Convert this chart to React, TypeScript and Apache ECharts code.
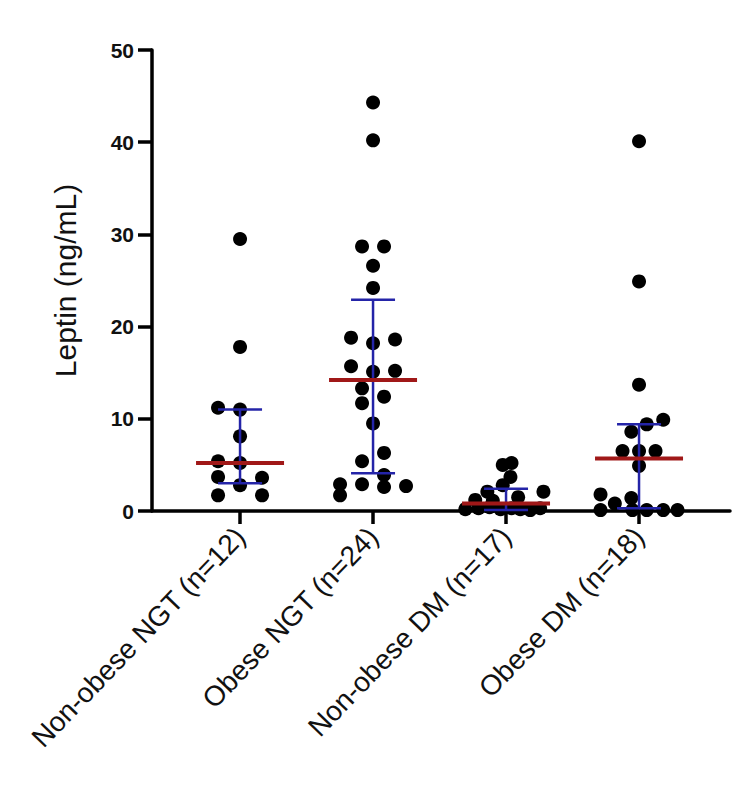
import React, { useEffect, useRef } from "react";
import * as echarts from "echarts";

const categories = [
  "Non-obese NGT (n=12)",
  "Obese NGT (n=24)",
  "Non-obese DM (n=17)",
  "Obese DM (n=18)",
];

const yTicks = [0, 10, 20, 30, 40, 50];

// Leptin values (ng/mL) per group, with horizontal scatter slot (in dot units)
const nonObeseNGT = [29.5, 17.8, 11.2, 11.0, 8.1, 5.4, 5.2, 3.7, 3.6, 2.8, 1.7, 1.7];
const nonObeseNGTSlot = [0, 0, -2, 0, 0, -2, 0, -2, 2, 0, -2, 2];

const obeseNGT = [44.3, 40.2, 28.7, 28.7, 26.6, 24.2, 18.8, 18.2, 18.6, 15.7, 15.1, 15.2, 13.3, 11.7, 12.4, 9.5, 6.3, 5.4, 3.9, 2.9, 2.6, 2.7, 2.9, 1.7];
const obeseNGTSlot = [0, 0, -1, 1, 0, 0, -2, 0, 2, -2, 0, 2, -1, -1, 1, 0, 1, -1, 1, -1, 1, 3, -3, -3];

const nonObeseDM = [5.0, 5.2, 3.7, 2.8, 2.1, 2.1, 1.5, 1.2, 1.1, 0.2, 0.3, 0.4, 0.2, 0.3, 0.2, 0.1, 0.3];
const nonObeseDMSlot = [-0.3, 0.5, 0.4, -0.3, -1.7, 3.4, 1.1, -2.8, -1.2, -3.7, -2.5, -1.5, -0.5, 0.5, 1.3, 2.2, 3.1];

const obeseDM = [40.1, 24.9, 13.7, 9.9, 9.4, 8.6, 6.5, 6.5, 6.5, 4.9, 1.8, 1.4, 0.8, 0.1, 0.1, 0.1, 0.1, 0.1];
const obeseDMSlot = [0, 0, 0, 2.2, 0.7, -0.7, -1.5, 0, 1.5, 0, -3.5, -0.7, -2.2, -3.5, -0.6, 0.7, 2.2, 3.5];

// Median and interquartile range per group
const medians = [5.2, 14.2, 0.8, 5.7];
const q1s = [3.0, 4.1, 0.1, 0.3];
const q3s = [11.0, 22.9, 2.4, 9.4];

const groups = [nonObeseNGT, obeseNGT, nonObeseDM, obeseDM];
const slots = [nonObeseNGTSlot, obeseNGTSlot, nonObeseDMSlot, obeseDMSlot];

const SLOT_UNIT = 11 / 133;

export default function App() {
  const ref = useRef<HTMLDivElement>(null);

  useEffect(() => {
    document.body.style.margin = "0";
    if (!ref.current) return;
    const chart = echarts.init(ref.current, undefined, { renderer: "svg" });

    const points: number[][] = [];
    groups.forEach((vals, gi) => {
      vals.forEach((v, i) => {
        points.push([gi + slots[gi][i] * SLOT_UNIT, v]);
      });
    });

    const stats = medians.map((m, i) => [i, m, q1s[i], q3s[i]]);

    const font = "'Liberation Sans', Arial, sans-serif";

    chart.setOption({
      animation: false,
      backgroundColor: "#ffffff",
      grid: { left: 152, right: 20, top: 50, bottom: 281, containLabel: false },
      xAxis: {
        type: "value",
        min: -0.662,
        max: 3.684,
        splitLine: { show: false },
        axisLine: { show: true, onZero: false, lineStyle: { color: "#000", width: 3.5 } },
        axisTick: {
          show: true,
          length: 13,
          lineStyle: { color: "#000", width: 3.5 },
          customValues: [0, 1, 2, 3],
        },
        axisLabel: {
          show: true,
          customValues: [0, 1, 2, 3],
          rotate: 46,
          margin: 21,
          fontSize: 28,
          fontFamily: font,
          color: "#111",
          formatter: (v: number) => categories[Math.round(v)] ?? "",
        },
      },
      yAxis: {
        type: "value",
        min: 0,
        max: 50,
        interval: 10,
        splitLine: { show: false },
        name: "Leptin (ng/mL)",
        nameLocation: "middle",
        nameGap: 72,
        nameTextStyle: { fontSize: 30, fontFamily: font, color: "#111" },
        axisLine: { show: true, onZero: false, lineStyle: { color: "#000", width: 3.5 } },
        axisTick: { show: true, length: 14, lineStyle: { color: "#000", width: 3.5 } },
        axisLabel: {
          margin: 18,
          fontSize: 21,
          fontWeight: "bold",
          fontFamily: font,
          color: "#111",
          formatter: (v: number) => (yTicks.includes(v) ? String(v) : ""),
        },
      },
      series: [
        {
          type: "scatter",
          data: points,
          symbol: "circle",
          symbolSize: 14,
          itemStyle: { color: "#000", opacity: 1 },
          z: 2,
        },
        {
          type: "custom",
          data: stats,
          z: 3,
          renderItem: (params: any, api: any) => {
            const x = api.value(0);
            const med = api.coord([x, api.value(1)]);
            const lo = api.coord([x, api.value(2)]);
            const hi = api.coord([x, api.value(3)]);
            const blue = "#2424a8";
            const red = "#a01818";
            const capW = 22;
            const medW = 44;
            return {
              type: "group",
              children: [
                {
                  type: "line",
                  shape: { x1: lo[0], y1: lo[1], x2: hi[0], y2: hi[1] },
                  style: { stroke: blue, lineWidth: 2.5 },
                },
                {
                  type: "line",
                  shape: { x1: hi[0] - capW, y1: hi[1], x2: hi[0] + capW, y2: hi[1] },
                  style: { stroke: blue, lineWidth: 2.5 },
                },
                {
                  type: "line",
                  shape: { x1: lo[0] - capW, y1: lo[1], x2: lo[0] + capW, y2: lo[1] },
                  style: { stroke: blue, lineWidth: 2.5 },
                },
                {
                  type: "line",
                  shape: { x1: med[0] - medW, y1: med[1], x2: med[0] + medW, y2: med[1] },
                  style: { stroke: red, lineWidth: 4 },
                },
              ],
            };
          },
        },
      ],
    });

    return () => chart.dispose();
  }, []);

  return <div ref={ref} style={{ width: 750, height: 792 }} />;
}
